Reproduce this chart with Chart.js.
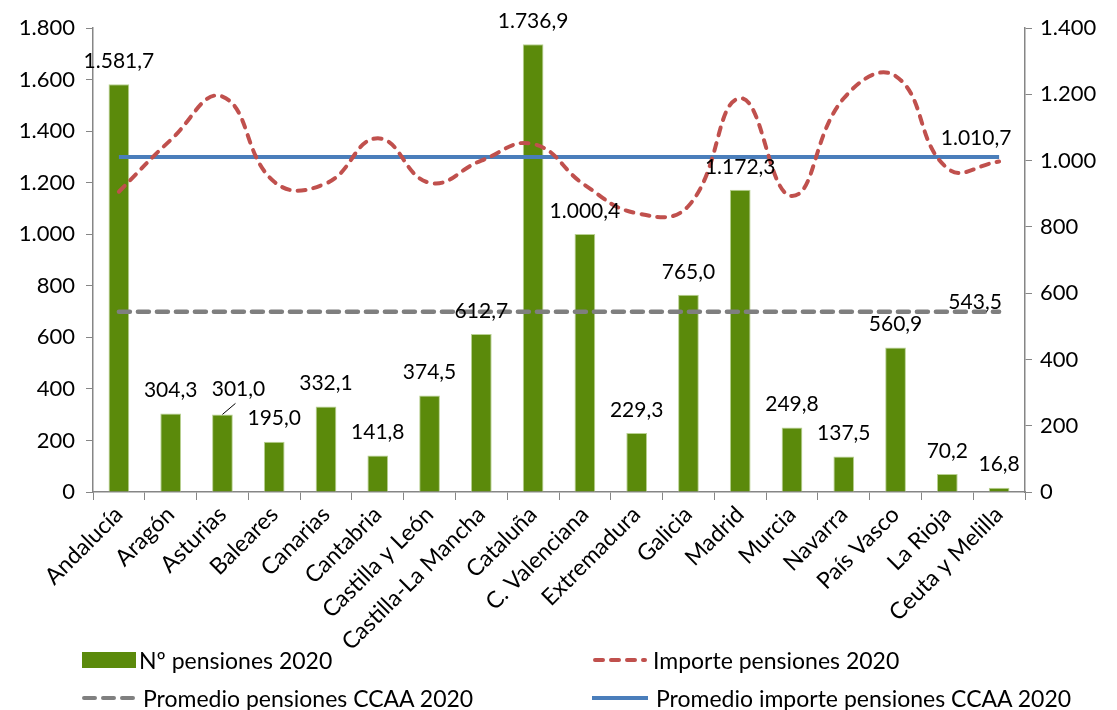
<!DOCTYPE html>
<html>
<head>
<meta charset="utf-8">
<script src="https://cdn.jsdelivr.net/npm/chart.js@4.4.1/dist/chart.umd.min.js"></script>
<style>
  body { margin: 0; background: #fff; }
  #wrap { position: relative; width: 1117px; height: 710px; font-family: Lato, sans-serif; }
  #grafico { position: absolute; left: 0; top: 0; }
  .leg { position: absolute; font-size: 23px; color: #000; display: flex; align-items: center; white-space: nowrap; height: 26px; }
</style>
</head>
<body>
<div id="wrap">
  <canvas id="grafico" width="1117" height="710"></canvas>
  <div class="leg" style="left:82px; top:647px;">
    <svg width="54" height="16" style="margin-right:3px"><rect x="0" y="0" width="54" height="16" fill="#5b8a0b"/></svg>Nº pensiones 2020
  </div>
  <div class="leg" style="left:592px; top:647px;">
    <svg width="56" height="16" style="margin-right:5px"><line x1="3" y1="8" x2="53" y2="8" stroke="#c0504d" stroke-width="4" stroke-dasharray="8 8" stroke-linecap="round"/></svg>Importe pensiones 2020
  </div>
  <div class="leg" style="left:81px; top:685px;">
    <svg width="56" height="16" style="margin-right:6px"><line x1="3" y1="8" x2="52" y2="8" stroke="#808080" stroke-width="4" stroke-dasharray="11 8" stroke-linecap="round"/></svg>Promedio pensiones CCAA 2020
  </div>
  <div class="leg" style="left:592px; top:685px;">
    <svg width="56" height="16" style="margin-right:8px"><line x1="0" y1="8" x2="56" y2="8" stroke="#4a7ebb" stroke-width="4"/></svg>Promedio importe pensiones CCAA 2020
  </div>
</div>
<script>
// datos
const regiones = ['Andalucía', 'Aragón', 'Asturias', 'Baleares', 'Canarias', 'Cantabria', 'Castilla y León',
  'Castilla-La Mancha', 'Cataluña', 'C. Valenciana', 'Extremadura', 'Galicia', 'Madrid', 'Murcia', 'Navarra',
  'País Vasco', 'La Rioja', 'Ceuta y Melilla'];
const numPensiones = [1581.7, 304.3, 301.0, 195.0, 332.1, 141.8, 374.5, 612.7, 1736.9, 1000.4, 229.3, 765.0,
  1172.3, 249.8, 137.5, 560.9, 70.2, 16.8];
const importePensiones = [906, 1062, 1193, 936, 931, 1067, 933, 1000, 1050, 926, 841, 863, 1188, 893, 1188,
  1255, 977, 997];
const promedioPensiones = [543.5, 543.5, 543.5, 543.5, 543.5, 543.5, 543.5, 543.5, 543.5, 543.5, 543.5, 543.5,
  543.5, 543.5, 543.5, 543.5, 543.5, 543.5];
const promedioImporte = [1010.7, 1010.7, 1010.7, 1010.7, 1010.7, 1010.7, 1010.7, 1010.7, 1010.7, 1010.7, 1010.7,
  1010.7, 1010.7, 1010.7, 1010.7, 1010.7, 1010.7, 1010.7];

const FUENTE = 'Lato, sans-serif';
const GRIS_EJE = '#868686';

// formato español: 1.581,7
function fmt(v, dec) {
  const partes = v.toFixed(dec).split('.');
  const ent = partes[0].replace(/\B(?=(\d{3})+(?!\d))/g, '.');
  return partes[1] ? ent + ',' + partes[1] : ent;
}

// etiquetas de valores sobre las barras y al final de los promedios
const etiquetas = {
  id: 'etiquetas',
  afterDatasetsDraw(chart) {
    const ctx = chart.ctx;
    ctx.save();
    ctx.font = '21px ' + FUENTE;
    ctx.fillStyle = '#000';
    ctx.textAlign = 'center';
    ctx.textBaseline = 'middle';

    chart.getDatasetMeta(0).data.forEach((barra, i) => {
      if (i === 2) {
        // Asturias: etiqueta desplazada con línea guía
        ctx.fillText(fmt(numPensiones[i], 1), barra.x + 16, barra.y - 25);
        ctx.strokeStyle = '#000';
        ctx.lineWidth = 1;
        ctx.beginPath();
        ctx.moveTo(barra.x, barra.y);
        ctx.lineTo(barra.x + 13, barra.y - 11);
        ctx.stroke();
      } else {
        ctx.fillText(fmt(numPensiones[i], 1), barra.x, barra.y - 23);
      }
    });

    const gris = chart.getDatasetMeta(2).data;
    const ultG = gris[gris.length - 1];
    ctx.fillText(fmt(promedioPensiones[promedioPensiones.length - 1], 1), ultG.x - 24, ultG.y - 10);

    const azul = chart.getDatasetMeta(3).data;
    const ultA = azul[azul.length - 1];
    ctx.fillText(fmt(promedioImporte[promedioImporte.length - 1], 1), ultA.x - 23, ultA.y - 19);
    ctx.restore();
  }
};

const ctx = document.getElementById('grafico').getContext('2d');

new Chart(ctx, {
  type: 'bar',
  data: {
    labels: regiones,
    datasets: [
      {
        label: 'Nº pensiones 2020',
        data: numPensiones,
        backgroundColor: '#5b8a0b',
        borderColor: '#b9d192',
        borderWidth: 1,
        barPercentage: 0.4,
        categoryPercentage: 1,
        yAxisID: 'y',
        order: 10
      },
      {
        type: 'line',
        label: 'Importe pensiones 2020',
        data: importePensiones,
        borderColor: '#c0504d',
        borderWidth: 4,
        borderDash: [8, 8],
        borderCapStyle: 'round',
        tension: 0.45,
        pointRadius: 0,
        yAxisID: 'y1',
        order: 1
      },
      {
        type: 'line',
        label: 'Promedio pensiones CCAA 2020',
        data: promedioPensiones,
        borderColor: '#7f7f7f',
        borderWidth: 4.5,
        borderDash: [11, 8],
        borderCapStyle: 'round',
        pointRadius: 0,
        yAxisID: 'y1',
        order: 3
      },
      {
        type: 'line',
        label: 'Promedio importe pensiones CCAA 2020',
        data: promedioImporte,
        borderColor: '#4a7ebb',
        borderWidth: 4,
        pointRadius: 0,
        yAxisID: 'y1',
        order: 2
      }
    ]
  },
  options: {
    responsive: false,
    devicePixelRatio: 1,
    animation: false,
    layout: { padding: { top: 28, left: 0, right: 0, bottom: 56 } },
    plugins: {
      legend: { display: false },
      tooltip: { enabled: false }
    },
    scales: {
      x: {
        afterFit: (s) => { s.height = 162; },
        grid: { drawOnChartArea: false, tickLength: 8, color: GRIS_EJE, offset: true },
        border: { color: GRIS_EJE, width: 1.5 },
        ticks: {
          color: '#000',
          font: { family: FUENTE, size: 23 },
          minRotation: 45,
          maxRotation: 45,
          autoSkip: false,
          padding: 1
        }
      },
      y: {
        position: 'left',
        min: 0,
        max: 1800,
        afterFit: (s) => { s.width = 93; },
        grid: { drawOnChartArea: false, tickLength: 7, color: GRIS_EJE },
        border: { color: GRIS_EJE, width: 1.5 },
        ticks: {
          stepSize: 200,
          color: '#000',
          font: { family: FUENTE, size: 22 },
          padding: 11,
          callback: (v) => fmt(v, 0)
        }
      },
      y1: {
        position: 'right',
        min: 0,
        max: 1400,
        afterFit: (s) => { s.width = 92; },
        grid: { drawOnChartArea: false, tickLength: 7, color: GRIS_EJE },
        border: { color: GRIS_EJE, width: 1.5 },
        ticks: {
          stepSize: 200,
          color: '#000',
          font: { family: FUENTE, size: 22 },
          padding: 8,
          callback: (v) => fmt(v, 0)
        }
      }
    }
  },
  plugins: [etiquetas]
});
</script>
</body>
</html>
